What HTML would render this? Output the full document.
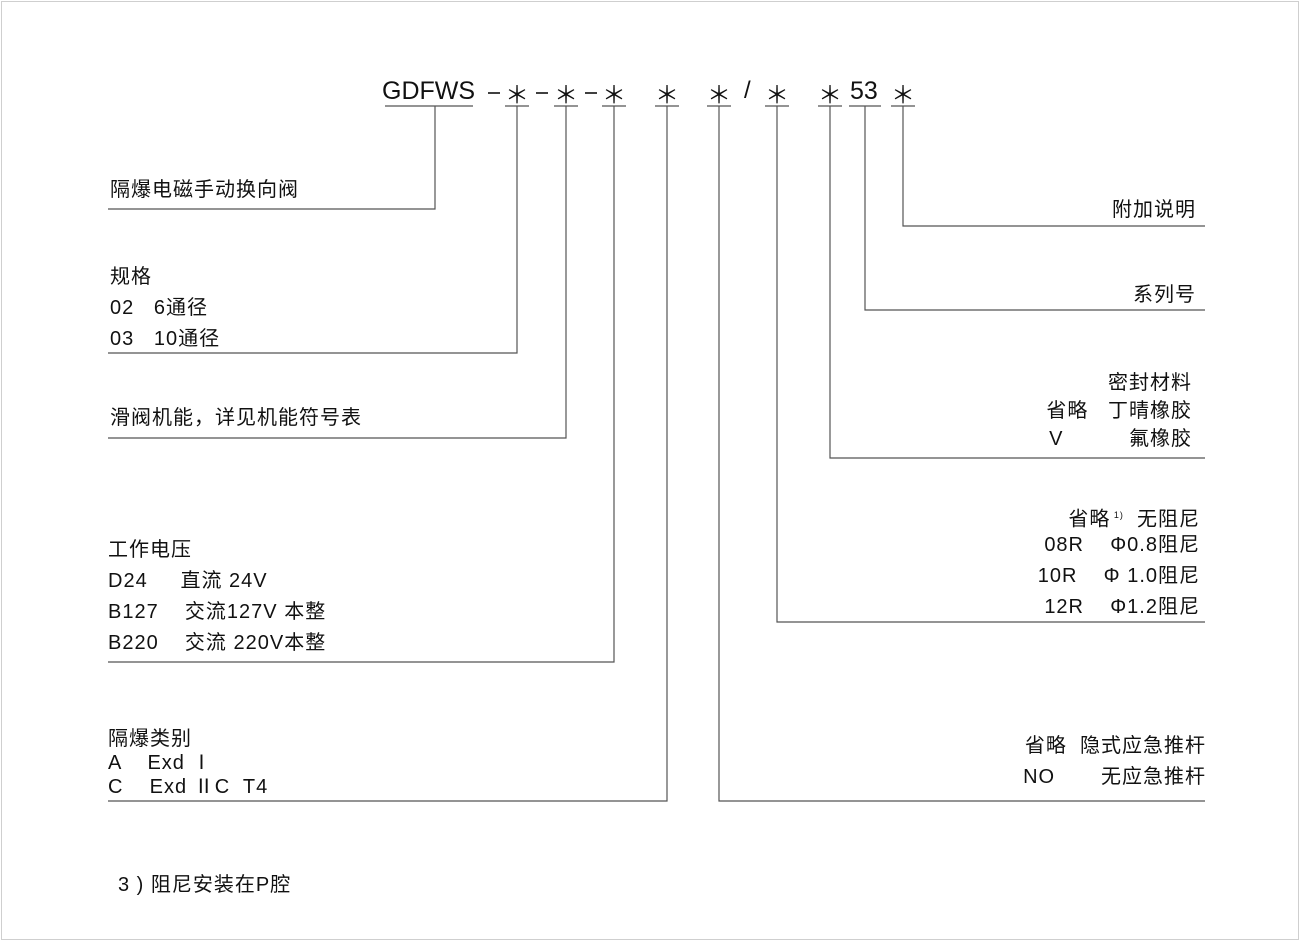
<!DOCTYPE html>
<html><head><meta charset="utf-8"><style>
body{margin:0;width:1300px;height:941px;background:#fff;position:relative;overflow:hidden;font-family:"Liberation Sans","Noto Sans CJK SC",sans-serif;color:#111}
.b{position:absolute;left:1px;top:1px;width:1296px;height:937px;border:1px solid #cfcfcf}
.t{position:absolute;font-size:20px;white-space:pre;line-height:24px;letter-spacing:1px}
.rr{position:absolute;right:104px;font-size:20px;white-space:pre;line-height:24px;letter-spacing:1px;text-align:right}
.s{position:absolute;top:80px;width:30px;margin-left:-15px;text-align:center;font-size:24px;line-height:26px;font-family:"Noto Sans CJK SC",sans-serif}
svg{position:absolute;left:0;top:0}
</style></head><body>
<div class="b"></div>
<svg width="1300" height="941" stroke="#555" stroke-width="1.2" fill="none">
<g>
<line x1="385" y1="106" x2="473" y2="106"/>
<line x1="505" y1="106" x2="529" y2="106"/>
<line x1="554" y1="106" x2="578" y2="106"/>
<line x1="602" y1="106" x2="626" y2="106"/>
<line x1="655" y1="106" x2="679" y2="106"/>
<line x1="707" y1="106" x2="731" y2="106"/>
<line x1="765" y1="106" x2="789" y2="106"/>
<line x1="818" y1="106" x2="842" y2="106"/>
<line x1="849" y1="106" x2="881" y2="106"/>
<line x1="891" y1="106" x2="915" y2="106"/>
<line x1="488" y1="93" x2="500" y2="93" stroke="#111" stroke-width="1.6"/>
<line x1="536" y1="93" x2="548" y2="93" stroke="#111" stroke-width="1.6"/>
<line x1="585" y1="93" x2="597" y2="93" stroke="#111" stroke-width="1.6"/>
</g>
<polyline points="435,106 435,209 108,209"/>
<polyline points="517,106 517,353 108,353"/>
<polyline points="566,106 566,438 108,438"/>
<polyline points="614,106 614,662 108,662"/>
<polyline points="667,106 667,801 108,801"/>
<polyline points="719,106 719,801 1205,801"/>
<polyline points="777,106 777,622 1205,622"/>
<polyline points="830,106 830,458 1205,458"/>
<polyline points="865,106 865,310 1205,310"/>
<polyline points="903,106 903,226 1205,226"/>
</svg>
<div class="t" style="left:382px;top:79px;font-size:25px;letter-spacing:0">GDFWS</div>
<div class="s" style="left:517px">＊</div>
<div class="s" style="left:566px">＊</div>
<div class="s" style="left:614px">＊</div>
<div class="s" style="left:667px">＊</div>
<div class="s" style="left:719px">＊</div>
<div class="t" style="left:744px;top:79px;font-size:24px">/</div>
<div class="s" style="left:777px">＊</div>
<div class="s" style="left:830px">＊</div>
<div class="t" style="left:850px;top:79px;font-size:25px;letter-spacing:0">53</div>
<div class="s" style="left:903px">＊</div>

<div class="t" style="left:110px;top:178px">隔爆电磁手动换向阀</div>
<div class="t" style="left:110px;top:265px">规格</div>
<div class="t" style="left:110px;top:296px">02   6通径</div>
<div class="t" style="left:110px;top:327px">03   10通径</div>
<div class="t" style="left:110px;top:406px">滑阀机能，详见机能符号表</div>
<div class="t" style="left:108px;top:538px">工作电压</div>
<div class="t" style="left:108px;top:569px">D24     直流 24V</div>
<div class="t" style="left:108px;top:600px">B127    交流127V 本整</div>
<div class="t" style="left:108px;top:631px">B220    交流 220V本整</div>
<div class="t" style="left:108px;top:727px">隔爆类别</div>
<div class="t" style="left:108px;top:751px">A    Exd Ⅰ</div>
<div class="t" style="left:108px;top:775px">C    Exd ⅡC  T4</div>
<div class="t" style="left:118px;top:873px">3 ) 阻尼安装在P腔</div>

<div class="rr" style="top:198px">附加说明</div>
<div class="rr" style="top:283px">系列号</div>
<div class="rr" style="top:371px;right:108px">密封材料</div>
<div class="rr" style="top:399px;right:108px">省略   丁晴橡胶</div>
<div class="rr" style="top:427px;right:108px">V          氟橡胶</div>
<div class="rr" style="top:503px;right:100px">省略<sup style="font-size:9px"> 1)</sup>  无阻尼</div>
<div class="rr" style="top:533px;right:100px">08R    Φ0.8阻尼</div>
<div class="rr" style="top:564px;right:100px">10R    Φ 1.0阻尼</div>
<div class="rr" style="top:595px;right:100px">12R    Φ1.2阻尼</div>
<div class="rr" style="top:734px;right:94px">省略  隐式应急推杆</div>
<div class="rr" style="top:765px;right:94px">NO       无应急推杆</div>
</body></html>
